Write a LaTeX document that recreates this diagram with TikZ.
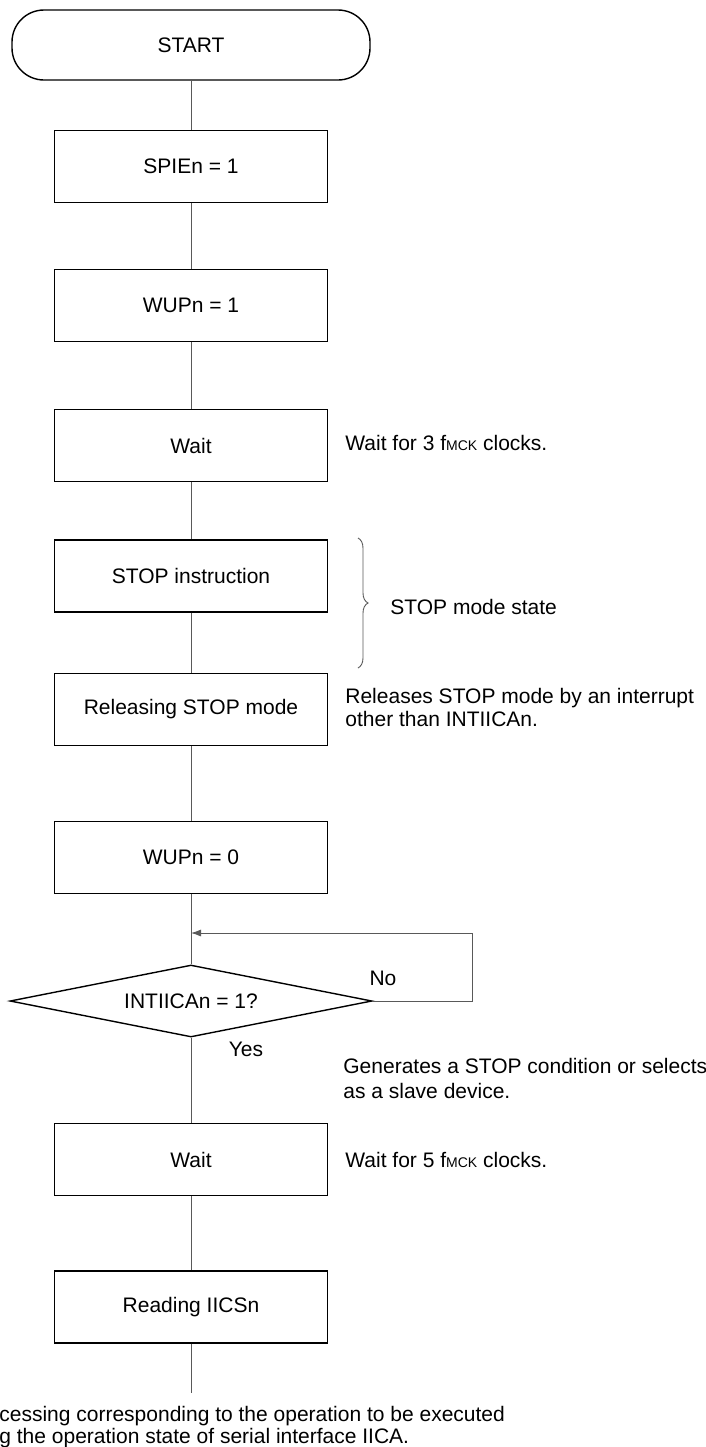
\documentclass[tikz,border=0pt]{standalone}
\usepackage{fontspec}
\setmainfont{Liberation Sans}
\usetikzlibrary{shapes.geometric,arrows.meta,decorations.pathreplacing}
\newcommand{\fmck}{f{\fontsize{7}{8}\selectfont MCK}}
\tikzset{
  box/.style={draw,line width=0.7pt,rectangle,minimum width=136.5pt,minimum height=36pt,inner sep=0pt},
  flow/.style={draw=black!65,line width=0.45pt},
  note/.style={anchor=west,inner sep=0pt,align=left,font=\fontsize{10.5}{11.5}\selectfont},
}
\begin{document}
\begin{tikzpicture}[x=0.5pt,y=-0.5pt,font=\fontsize{10.5}{12}\selectfont]
\useasboundingbox[fill=white] (0,0) rectangle (706,1447);
\node[draw,line width=0.7pt,rounded corners=16pt,minimum width=179pt,minimum height=35pt,inner sep=0pt] (start) at (191,45) {START};
\node[box] (spien) at (191,166.5) {SPIEn = 1};
\node[box] (wup1) at (191,305.5) {WUPn = 1};
\node[box] (wait1) at (191,445.5) {Wait};
\node[box] (stop) at (191,576) {STOP instruction};
\node[box] (rel) at (191,709.5) {Releasing STOP mode};
\node[box] (wup0) at (191,857.5) {WUPn = 0};
\node[draw,line width=0.7pt,diamond,aspect=5,minimum width=181pt,minimum height=36pt,inner sep=0pt] (dec) at (191,1001) {INTIICAn = 1?};
\node[box] (wait2) at (191,1159.5) {Wait};
\node[box] (read) at (191,1307) {Reading IICSn};
\coordinate (merge) at (191,933);
\coordinate (fin) at (191,1393);
\draw[flow] (start) -- (spien);
\draw[flow] (spien) -- (wup1);
\draw[flow] (wup1) -- (wait1);
\draw[flow] (wait1) -- (stop);
\draw[flow] (stop) -- (rel);
\draw[flow] (rel) -- (wup0);
\draw[flow] (wup0) -- (dec);
\draw[flow,-{Latex[length=5pt,width=3.5pt]}] (dec.east) -- ++(100,0) |- (merge);
\draw[flow] (dec) -- (wait2);
\draw[flow] (wait2) -- (read);
\draw[flow] (read) -- (fin);
\node (no) at (383,978) {No};
\node (yes) at (246,1049) {Yes};
\node[note] (n1) at (345,443) {Wait for 3 \fmck\ clocks.};
\draw[black!65,line width=0.45pt,decorate,decoration={brace,amplitude=5pt}] (358,538) -- (358,668);
\node[note] (n2) at (390,607) {STOP mode state};
\node[note] (n3) at (345,707) {Releases STOP mode by an interrupt\\other than INTIICAn.};
\node[note,font=\fontsize{10.5}{12.5}\selectfont] (n4) at (343,1078.5) {Generates a STOP condition or selects\\as a slave device.};
\node[note] (n5) at (345,1159.5) {Wait for 5 \fmck\ clocks.};
\node[note,font=\fontsize{10.5}{9.5}\selectfont] (n6) at (-1,1427) {cessing corresponding to the operation to be executed\\g the operation state of serial interface IICA.};
\end{tikzpicture}
\end{document}
